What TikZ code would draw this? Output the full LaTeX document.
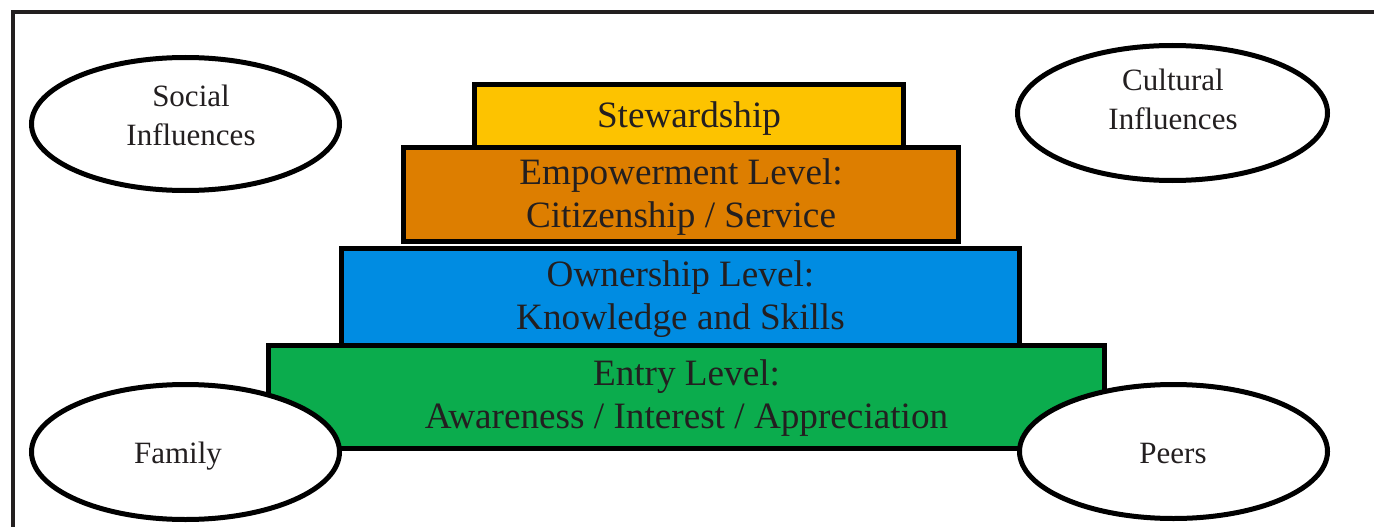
\documentclass[tikz,border=0pt]{standalone}
\usepackage{fontspec}
\setmainfont{Liberation Serif}
\usetikzlibrary{shapes.geometric}
\definecolor{stewcol}{RGB}{253,195,0}
\definecolor{empcol}{RGB}{221,126,0}
\definecolor{owncol}{RGB}{0,140,226}
\definecolor{entrycol}{RGB}{11,172,77}
\definecolor{txtcol}{RGB}{35,31,32}
\definecolor{framecol}{RGB}{35,31,32}
\tikzset{
  levelbox/.style={draw=black, line width=5pt, rectangle, inner sep=0pt},
  leveltext/.style={align=center, text=txtcol, inner sep=0pt, font=\fontsize{37.2}{43}\selectfont},
  infl/.style={draw=black, fill=white, line width=5pt, ellipse, inner sep=0pt},
  infltext/.style={align=center, text=txtcol, inner sep=0pt, font=\fontsize{31}{39}\selectfont},
}
\begin{document}
\begin{tikzpicture}[x=1pt,y=-1pt]
\useasboundingbox (0,0) rectangle (1374,527);
% frame
\coordinate (frtr) at (1374,12.5);
\coordinate (frtl) at (12.5,12.5);
\coordinate (frbl) at (12.5,527);
\draw[framecol, line width=4pt] (frtr) -- (frtl) -- (frbl);
% levels
\node[levelbox, fill=stewcol, minimum width=429pt, minimum height=63pt] (stew) at (689,116) {};
\node[levelbox, fill=empcol, minimum width=555pt, minimum height=94pt] (emp) at (681,194.5) {};
\node[levelbox, fill=owncol, minimum width=678pt, minimum height=97pt] (own) at (680.5,297) {};
\node[levelbox, fill=entrycol, minimum width=836pt, minimum height=103pt] (entry) at (686.5,397) {};
\node[leveltext] (stewtxt) at ([yshift=-3pt]stew.center) {Stewardship};
\node[leveltext] (emptxt) at ([yshift=-3pt]emp.center) {Empowerment Level:\\Citizenship / Service};
\node[leveltext] (owntxt) at ([yshift=-2pt]own.center) {Ownership Level:\\Knowledge and Skills};
\node[leveltext] (entrytxt) at ([yshift=-1pt]entry.center) {Entry Level:\\Awareness / Interest / Appreciation};
% influences
\node[infl, minimum width=308pt, minimum height=133pt] (social) at (185.5,124) {};
\node[infltext] (socialtxt) at (191,115) {Social\\Influences};
\node[infl, minimum width=310pt, minimum height=135pt] (cultural) at (1172.5,113) {};
\node[infltext] (culturaltxt) at (1173,99) {Cultural\\Influences};
\node[infl, minimum width=308pt, minimum height=135pt] (family) at (185.5,452) {};
\node[infltext] (familytxt) at (178,456) {Family};
\node[infl, minimum width=308pt, minimum height=134pt] (peers) at (1173.5,451.5) {};
\node[infltext] (peerstxt) at (1173,453) {Peers};
\end{tikzpicture}
\end{document}
